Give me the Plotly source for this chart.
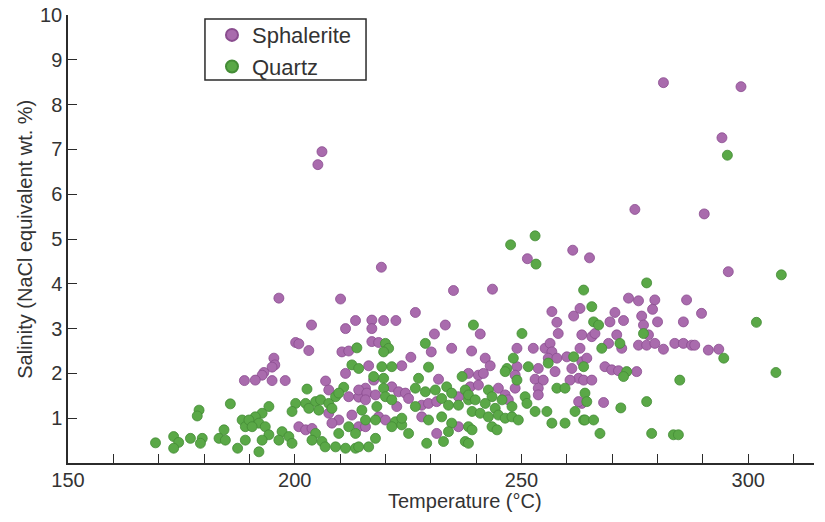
import plotly.graph_objects as go

# Sphalerite fluid inclusions: homogenization temperature (°C) and salinity (wt.% NaCl eq.)
sph_temp = [206.0, 205.1, 219.1, 251.3, 281.3, 298.4, 294.2, 275.0, 290.3, 261.3, 265.0, 295.6,
            188.9, 196.5, 210.1, 203.7, 211.2, 213.4, 200.2, 200.9, 203.1, 210.4, 211.9, 195.4,
            195.6, 195.0, 193.2, 192.8, 191.3, 195.0, 197.9, 211.2, 206.8, 207.5, 211.9, 214.1,
            200.9, 202.4, 203.8, 207.5, 209.7, 212.6, 214.1, 208.2,
            235.0, 226.6, 217.0, 219.6, 222.3, 217.0, 233.2, 230.8, 217.0, 218.5, 230.1, 234.6,
            239.0, 225.6, 223.6, 216.3, 217.4, 215.6, 231.7, 238.7, 214.1, 215.9, 217.8, 221.4,
            222.9, 224.4, 225.1, 222.5, 228.0, 229.5, 231.3, 236.1, 215.6, 218.5, 220.0, 228.0,
            236.1, 231.3, 215.6,
            243.6, 240.9, 256.7, 257.8, 261.5, 262.9, 258.1, 263.3, 242.0, 243.1, 249.0, 252.6,
            255.2, 256.3, 256.7, 255.9, 257.8, 260.0, 262.9, 263.3, 261.1, 257.4, 253.7, 262.6,
            260.7, 249.0, 248.6, 248.6, 253.0, 254.8, 253.7, 253.7, 238.3, 240.5, 241.6, 240.5,
            244.9, 246.4, 247.1, 263.3,
            273.6, 275.8, 279.4, 286.4, 278.9, 270.6, 269.5, 272.5, 276.5, 276.9, 280.0, 285.7,
            265.5, 266.2, 269.2, 271.0, 272.1, 275.8, 277.6, 278.0, 279.4, 281.3, 283.8, 285.7,
            287.5, 264.4, 268.4, 269.9, 271.4, 275.4, 263.7, 265.5, 268.1, 262.6,
            289.7, 288.2, 291.2, 293.5]
sph_sal = [6.95, 6.66, 4.37, 4.56, 8.49, 8.40, 7.26, 5.66, 5.56, 4.75, 4.58, 4.27,
           1.84, 3.68, 3.66, 3.08, 3.00, 3.18, 2.69, 2.66, 2.51, 2.48, 2.50, 2.34,
           2.19, 2.14, 2.02, 1.96, 1.85, 1.84, 1.84, 2.00, 1.83, 1.63, 1.48, 1.47,
           0.81, 0.74, 0.77, 1.11, 0.96, 1.07, 0.81, 0.89,
           3.85, 3.36, 3.19, 3.18, 3.18, 3.00, 3.08, 2.88, 2.71, 2.69, 2.48, 2.56,
           2.50, 2.36, 2.17, 2.17, 1.85, 1.67, 1.87, 1.70, 1.63, 1.56, 1.52, 1.70,
           1.59, 1.56, 1.44, 1.26, 1.29, 1.33, 1.37, 1.48, 1.41, 1.03, 0.96, 1.03,
           0.81, 0.66, 0.81,
           3.88, 2.88, 3.38, 3.14, 3.28, 3.45, 2.89, 2.86, 2.34, 2.17, 2.56, 2.56,
           2.56, 2.67, 2.48, 2.34, 2.34, 2.37, 2.56, 2.26, 2.11, 2.04, 2.11, 1.89,
           1.85, 2.15, 1.96, 1.67, 1.87, 1.85, 1.67, 1.52, 2.00, 1.96, 2.00, 1.74,
           1.67, 1.52, 1.41, 1.33,
           3.68, 3.62, 3.64, 3.64, 3.43, 3.36, 3.15, 3.18, 3.28, 3.08, 3.15, 3.15,
           2.82, 2.89, 2.67, 2.86, 2.56, 2.63, 2.63, 2.86, 2.67, 2.54, 2.67, 2.67,
           2.63, 2.34, 2.15, 2.08, 2.06, 2.04, 1.85, 1.85, 1.35, 1.37,
           3.34, 2.63, 2.52, 2.54]

# Quartz fluid inclusions
qtz_temp = [247.6, 295.4, 253.0, 253.2, 307.3, 277.6,
            185.8, 178.9, 178.5, 188.4, 189.1, 184.4, 183.3, 184.7, 177.0, 179.6, 179.2, 173.3,
            174.4, 173.3, 169.3, 187.4, 189.1,
            213.7, 212.6, 214.1, 202.7, 210.8, 200.2, 202.4, 204.6, 205.7, 207.5, 199.4, 203.1,
            205.3, 208.2, 209.0, 209.7, 194.3, 192.8, 191.3, 189.9, 192.1, 193.5, 190.6, 194.3,
            192.8, 192.1, 197.2, 196.5, 198.7, 199.4, 204.6, 203.8, 206.0, 206.7, 209.0, 211.2,
            213.4, 209.7, 211.9, 213.4,
            239.4, 220.0, 220.7, 219.6, 228.8, 229.5, 219.2, 221.4, 217.4, 219.6, 227.3, 236.9,
            219.6, 220.0, 226.6, 228.8, 231.0, 233.5, 234.6, 237.6, 238.3, 232.4, 233.9, 236.1,
            226.6, 218.1, 214.8, 221.4, 215.6, 217.8, 222.2, 223.6, 225.1, 229.5, 232.4, 234.6,
            233.9, 238.3, 237.6, 232.8, 229.1, 221.4, 216.3, 214.1, 217.8, 223.6,
            250.1, 261.5, 248.2, 246.8, 246.4, 251.5, 255.9, 249.0, 257.8, 259.6, 238.3, 239.8,
            242.7, 243.5, 242.0, 245.7, 244.2, 247.9, 250.8, 251.2, 239.1, 240.9, 242.7, 244.9,
            246.4, 247.9, 249.3, 243.5, 244.6, 239.1, 238.3, 253.0, 255.6, 256.7, 259.6, 261.8,
            263.7,
            263.7, 265.5, 265.9, 267.0, 267.7, 271.7, 276.9, 263.7, 273.2, 272.5, 284.9, 264.0,
            264.4, 277.6, 271.9, 264.0, 265.9, 267.3, 278.7, 283.5, 284.6,
            301.8, 294.6, 306.1]
qtz_sal = [4.87, 6.87, 5.07, 4.44, 4.20, 4.02,
           1.32, 1.18, 1.05, 0.96, 0.81, 0.74, 0.55, 0.51, 0.55, 0.55, 0.44, 0.59,
           0.46, 0.33, 0.45, 0.33, 0.51,
           2.57, 2.19, 2.11, 1.65, 1.69, 1.33, 1.33, 1.37, 1.41, 1.33, 1.15, 1.22,
           1.18, 1.22, 1.48, 1.56, 1.26, 1.11, 1.03, 0.96, 0.89, 0.81, 0.81, 0.63,
           0.51, 0.25, 0.70, 0.51, 0.59, 0.44, 0.66, 0.51, 0.48, 0.36, 0.36, 0.33,
           0.33, 0.66, 0.81, 0.66,
           3.08, 2.67, 2.56, 2.48, 2.67, 2.14, 2.15, 2.15, 1.93, 1.89, 1.89, 1.93,
           1.67, 1.48, 1.67, 1.59, 1.63, 1.70, 1.56, 1.63, 1.41, 1.44, 1.29, 1.29,
           1.26, 1.26, 1.18, 1.41, 0.96, 0.96, 0.92, 0.85, 0.66, 0.96, 1.03, 0.89,
           0.70, 0.81, 0.48, 0.48, 0.44, 0.81, 0.36, 0.36, 0.55, 1.00,
           2.89, 2.37, 2.34, 2.11, 2.04, 2.15, 2.23, 1.85, 1.67, 1.67, 1.52, 1.41,
           1.63, 1.48, 1.33, 1.41, 1.22, 1.26, 1.48, 1.33, 1.15, 1.11, 1.03, 1.07,
           1.00, 1.03, 0.96, 0.81, 0.74, 0.74, 0.44, 1.15, 1.15, 0.89, 0.89, 1.15,
           0.96,
           3.86, 3.49, 3.15, 3.08, 2.56, 2.67, 2.89, 2.15, 2.04, 1.93, 1.85, 1.56,
           1.37, 1.37, 1.23, 0.96, 0.96, 0.66, 0.66, 0.63, 0.63,
           3.14, 2.34, 2.02]

x_tickvals = [150, 200, 250, 300]
y_tickvals = [1, 2, 3, 4, 5, 6, 7, 8, 9, 10]

FONT = "Liberation Sans, Arial, sans-serif"
AX = "#2b2b2b"

fig = go.Figure()
fig.add_trace(go.Scatter(
    x=sph_temp, y=sph_sal, mode="markers", name="Sphalerite",
    marker=dict(size=10, color="#a96bad", line=dict(width=0.8, color="#8a4d8f")),
))
fig.add_trace(go.Scatter(
    x=qtz_temp, y=qtz_sal, mode="markers", name="Quartz",
    marker=dict(size=10, color="#5aa847", line=dict(width=0.8, color="#448c36")),
))

fig.update_layout(
    width=825, height=522,
    margin=dict(l=68, r=11, t=15, b=59, autoexpand=False),
    paper_bgcolor="white", plot_bgcolor="white",
    font=dict(family=FONT, size=20, color="#333333"),
    showlegend=True,
    legend=dict(
        x=0.193, y=1.002, xanchor="left", yanchor="top",
        bgcolor="rgba(0,0,0,0)", borderwidth=0,
        font=dict(family=FONT, size=22, color="#333333"),
        itemsizing="constant", tracegroupgap=0,
    ),
    shapes=[
        dict(type="rect", xref="paper", yref="paper",
             x0=0.1836, x1=0.3995, y0=0.855, y1=0.991,
             line=dict(color=AX, width=1.5), fillcolor="rgba(0,0,0,0)", layer="below"),
    ],
    xaxis=dict(
        range=[150, 314.5], tickvals=x_tickvals, ticktext=[str(v) for v in x_tickvals],
        ticks="inside", ticklen=9, tickwidth=1.3, tickcolor=AX,
        minor=dict(dtick=10, ticks="inside", ticklen=9, tickwidth=1.3, tickcolor=AX),
        showline=True, linecolor=AX, linewidth=1.5,
        showgrid=False, zeroline=False, automargin=False,
        ticklabelstandoff=-2, ticklabeloverflow="allow",
        tickfont=dict(size=20, color="#333333"),
    ),
    yaxis=dict(
        range=[0, 10], tickvals=y_tickvals,
        ticks="inside", ticklen=9, tickwidth=1.3, tickcolor=AX,
        showline=True, linecolor=AX, linewidth=1.5,
        showgrid=False, zeroline=False, automargin=False,
        ticklabelstandoff=0, ticklabeloverflow="allow",
        tickfont=dict(size=20, color="#333333"),
    ),
    annotations=[
        dict(text="Temperature (°C)", xref="paper", yref="paper", x=0.532, y=-0.084,
             xanchor="center", yanchor="middle", showarrow=False,
             font=dict(size=20, color="#333333")),
        dict(text="Salinity (NaCl equivalent wt. %)", xref="paper", yref="paper", x=-0.058, y=0.5,
             xanchor="center", yanchor="middle", textangle=-90, showarrow=False,
             font=dict(size=20, color="#333333")),
    ],
)

# Remove the browser's default 8 px body margin so the figure sits at the page origin.
fig.write_html("out.html", config={"displayModeBar": False},
               post_script="document.body.style.margin='0px';")
